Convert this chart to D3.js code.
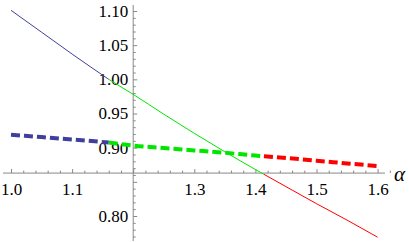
<!DOCTYPE html>
<html>
<head>
<meta charset="utf-8">
<script src="https://cdn.jsdelivr.net/npm/d3@7"></script>
<style>
  body { margin: 0; background: #fff; }
  svg { display: block; }
</style>
</head>
<body>
<div id="chart"></div>
<script>
// alpha values sampled along the curves (break points included)
const alphaVals = [1.0, 1.05, 1.1, 1.16, 1.2, 1.25, 1.3, 1.35, 1.4, 1.414, 1.45, 1.5, 1.55, 1.6];
// thin curve
const thinVals = [1.101, 1.069, 1.037, 1.0, 0.978, 0.949, 0.921, 0.894, 0.868, 0.861, 0.843, 0.818, 0.794, 0.769];
// dashed curve
const dashVals = [0.919, 0.9155, 0.912, 0.9075, 0.903, 0.8995, 0.896, 0.8925, 0.8885, 0.8875, 0.885, 0.881, 0.877, 0.873];
// where the colour changes
const phaseBreaks = [1.16, 1.414];
const phaseColors = ["#40409c", "#00e600", "#ff0000"];

const xMajor = [1.0, 1.1, 1.2, 1.3, 1.4, 1.5, 1.6];
const xLabels = ["1.0", "1.1", "", "1.3", "1.4", "1.5", "1.6"];
const yMajor = [0.80, 0.85, 0.90, 0.95, 1.00, 1.05, 1.10];
const yLabels = ["0.80", "", "0.90", "0.95", "1.00", "1.05", "1.10"];

const width = 409, height = 242;
const originX = 1.2, originY = 0.8628;
const serif = "'Liberation Serif', 'Times New Roman', serif";

const svg = d3.select("#chart").append("svg")
    .attr("width", width)
    .attr("height", height);

const x = d3.scaleLinear().domain([1.0, 1.6]).range([11, 377.6]);
const y = d3.scaleLinear().domain([0.80, 1.10]).range([216, 11]);

const axisColor = "#888";

// minor ticks
const xMinor = d3.range(0.98, 1.621, 0.02).filter(v => !xMajor.some(m => Math.abs(m - v) < 1e-6));
const yMinor = d3.range(0.77, 1.1051, 0.01).filter(v => !yMajor.some(m => Math.abs(m - v) < 1e-6));

// x axis line
svg.append("line")
    .attr("x1", 3).attr("x2", 385)
    .attr("y1", y(originY)).attr("y2", y(originY))
    .attr("stroke", axisColor).attr("stroke-width", 1);

// y axis line
svg.append("line")
    .attr("x1", x(originX)).attr("x2", x(originX))
    .attr("y1", 5).attr("y2", 241)
    .attr("stroke", axisColor).attr("stroke-width", 1);

const gx = svg.append("g").attr("transform", `translate(0,${y(originY)})`);
gx.append("g").call(d3.axisBottom(x).tickValues(xMinor).tickSizeInner(-2.5).tickSizeOuter(0).tickFormat(""));
gx.append("g").call(d3.axisBottom(x).tickValues(xMajor).tickSizeInner(-4).tickSizeOuter(0).tickPadding(10)
    .tickFormat((d, i) => xLabels[i]));

const gy = svg.append("g").attr("transform", `translate(${x(originX)},0)`);
gy.append("g").call(d3.axisLeft(y).tickValues(yMinor).tickSizeInner(-2.5).tickSizeOuter(0).tickFormat(""));
gy.append("g").call(d3.axisLeft(y).tickValues(yMajor).tickSizeInner(-4).tickSizeOuter(0).tickPadding(5)
    .tickFormat((d, i) => yLabels[i]));

svg.selectAll(".domain").remove();
svg.selectAll(".tick line").attr("stroke", axisColor);
svg.selectAll(".tick text")
    .attr("font-family", serif)
    .attr("font-size", 17)
    .attr("fill", "#000");

// split curves into the three coloured pieces
const bounds = [alphaVals[0], ...phaseBreaks, alphaVals[alphaVals.length - 1]];
function pieces(vals) {
    let out = [];
    for (let k = 0; k < bounds.length - 1; k++) {
        let pts = [];
        alphaVals.forEach((a, i) => {
            if (a >= bounds[k] - 1e-9 && a <= bounds[k + 1] + 1e-9) pts.push([a, vals[i]]);
        });
        out.push({pts, color: phaseColors[k]});
    }
    return out;
}

const line = d3.line()
    .x(d => x(d[0]))
    .y(d => y(d[1]))
    .curve(d3.curveMonotoneX);

svg.append("g").selectAll("path")
    .data(pieces(thinVals))
    .enter().append("path")
    .attr("d", d => line(d.pts))
    .attr("fill", "none")
    .attr("stroke", d => d.color)
    .attr("stroke-width", 1);

svg.append("g").selectAll("path")
    .data(pieces(dashVals))
    .enter().append("path")
    .attr("d", d => line(d.pts))
    .attr("fill", "none")
    .attr("stroke", d => d.color)
    .attr("stroke-width", 4)
    .attr("stroke-dasharray", "9,4");

// axis label
svg.append("text")
    .attr("x", 394)
    .attr("y", 181)
    .attr("font-family", serif)
    .attr("font-style", "italic")
    .attr("font-size", 21)
    .attr("fill", "#000")
    .text("α");
</script>
</body>
</html>
